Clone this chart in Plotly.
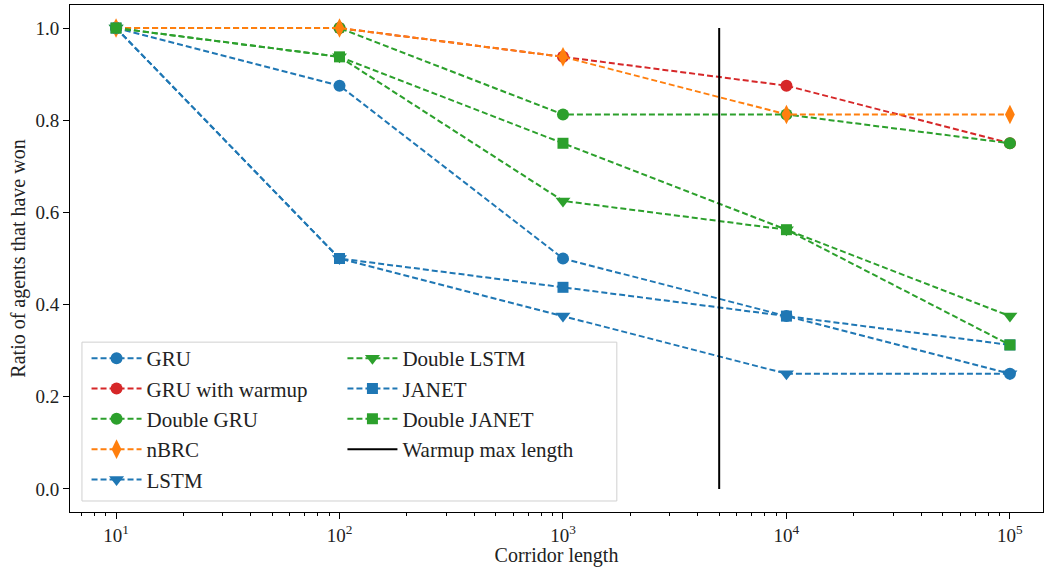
import plotly.graph_objects as go

corridor = [10, 100, 1000, 10000, 100000]
gru = [1.0, 0.875, 0.5, 0.375, 0.25]
gru_warmup = [1.0, 1.0, 0.9375, 0.875, 0.75]
double_gru = [1.0, 1.0, 0.8125, 0.8125, 0.75]
nbrc = [1.0, 1.0, 0.9375, 0.8125, 0.8125]
lstm = [1.0, 0.5, 0.375, 0.25, 0.25]
double_lstm = [1.0, 0.9375, 0.625, 0.5625, 0.375]
janet = [1.0, 0.5, 0.4375, 0.375, 0.3125]
double_janet = [1.0, 0.9375, 0.75, 0.5625, 0.3125]
warmup_x = [5000, 5000]
warmup_y = [0.0, 1.0]

x_tickvals = [10, 100, 1000, 10000, 100000]
x_ticktext = ["10<sup>1</sup>", "10<sup>2</sup>", "10<sup>3</sup>", "10<sup>4</sup>", "10<sup>5</sup>"]
y_tickvals = [0.0, 0.2, 0.4, 0.6, 0.8, 1.0]

BLUE, ORANGE, GREEN, RED = "#1f77b4", "#ff7f0e", "#2ca02c", "#d62728"
FONT = "Liberation Serif"

series = [
    ("GRU", gru, BLUE, "circle", 12, "legend"),
    ("GRU with warmup", gru_warmup, RED, "circle", 12, "legend"),
    ("Double GRU", double_gru, GREEN, "circle", 12, "legend"),
    ("nBRC", nbrc, ORANGE, "diamond-tall", 14, "legend"),
    ("LSTM", lstm, BLUE, "triangle-down", 13, "legend"),
    ("Double LSTM", double_lstm, GREEN, "triangle-down", 13, "legend2"),
    ("JANET", janet, BLUE, "square", 11, "legend2"),
    ("Double JANET", double_janet, GREEN, "square", 11, "legend2"),
]

fig = go.Figure()
for name, vals, color, sym, size, leg in series:
    fig.add_trace(go.Scatter(
        x=corridor, y=vals, name=name, mode="lines+markers",
        line=dict(color=color, width=2, dash="6px,3px"),
        marker=dict(symbol=sym, size=size, color=color, line=dict(width=0)),
        legend=leg,
    ))
fig.add_trace(go.Scatter(
    x=warmup_x, y=warmup_y, name="Warmup max length", mode="lines",
    line=dict(color="black", width=2), legend="legend2",
))

legend_common = dict(
    bgcolor="rgba(0,0,0,0)", borderwidth=0,
    font=dict(family=FONT, size=21, color="#222"),
    xanchor="left", yanchor="top", tracegroupgap=0, itemwidth=50,
)
fig.update_layout(
    width=1045, height=567,
    margin=dict(l=70, r=2, t=5, b=55, autoexpand=False),
    paper_bgcolor="white", plot_bgcolor="white",
    font=dict(family=FONT, size=19, color="#222"),
    legend=dict(x=0.017, y=0.343, **legend_common),
    legend2=dict(x=0.280, y=0.343, **legend_common),
    shapes=[dict(
        type="rect", xref="paper", yref="paper",
        x0=0.0123, x1=0.562, y0=0.0217, y1=0.335,
        line=dict(color="#d0d0d0", width=1),
        fillcolor="rgba(255,255,255,0.8)", layer="above",
    )],
)
fig.update_xaxes(
    type="log", range=[0.794, 5.148], automargin=False,
    tickvals=x_tickvals, ticktext=x_ticktext,
    ticks="outside", ticklen=6, tickwidth=1, tickcolor="black",
    minor=dict(ticks="outside", ticklen=3, tickcolor="black", dtick="D1", showgrid=False),
    showline=True, linecolor="black", linewidth=1, mirror=True,
    showgrid=False, zeroline=False,
    title=dict(text="Corridor length", font=dict(family=FONT, size=20), standoff=4),
    tickfont=dict(family=FONT, size=19),
)
fig.update_yaxes(
    range=[-0.05, 1.05], tickvals=y_tickvals, tickformat=".1f", automargin=False,
    ticks="outside", ticklen=6, tickwidth=1, tickcolor="black",
    showline=True, linecolor="black", linewidth=1, mirror=True,
    showgrid=False, zeroline=False,
    title=dict(text="Ratio of agents that have won", font=dict(family=FONT, size=20), standoff=4),
    tickfont=dict(family=FONT, size=19),
)
fig.write_html("out.html", config={"displayModeBar": False},
               post_script="document.body.style.margin='0';document.body.style.overflow='hidden';")
